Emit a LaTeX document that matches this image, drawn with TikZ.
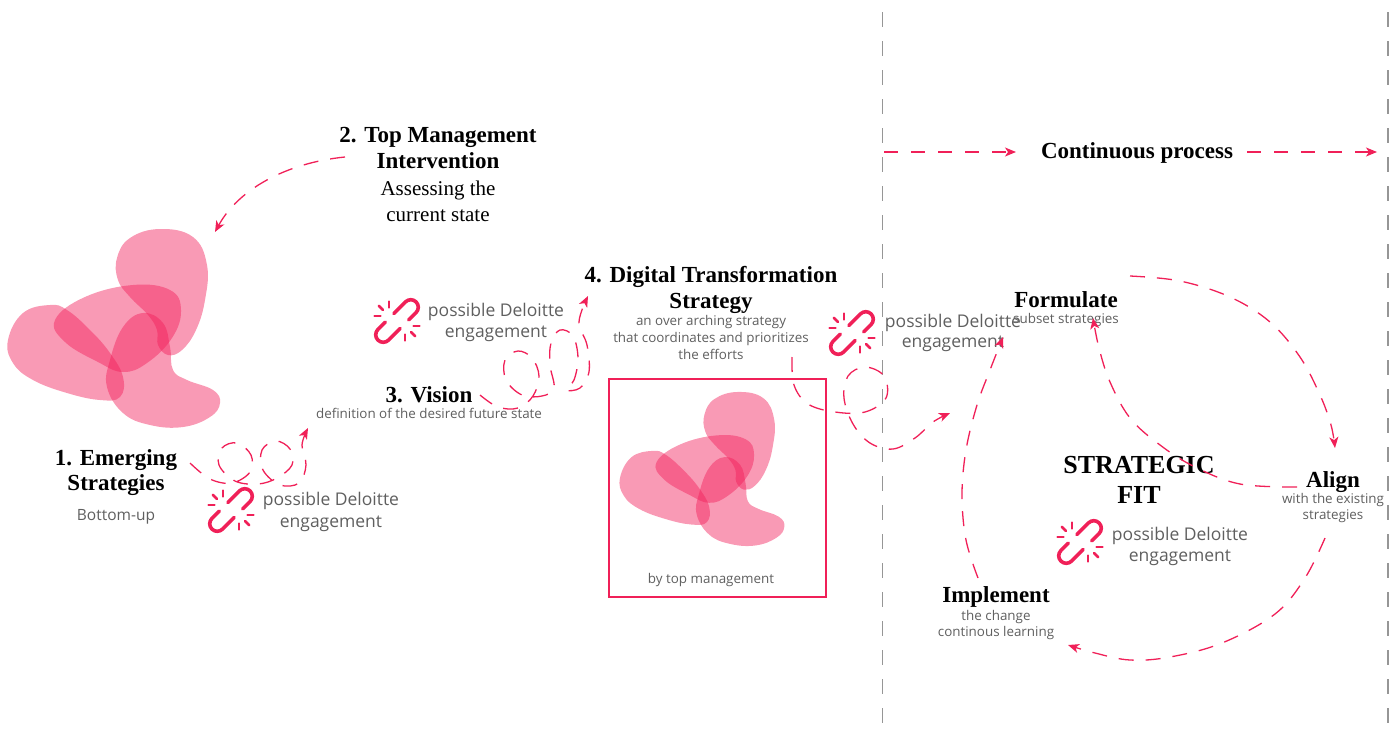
\documentclass[tikz,border=0pt]{standalone}
\usepackage{fontspec}
\setmainfont{Liberation Serif}
\setsansfont{Open Sans}
\usetikzlibrary{arrows.meta}

\definecolor{accent}{RGB}{240,32,88}
\definecolor{blobpink}{RGB}{242,30,90}
\definecolor{softgray}{RGB}{95,95,95}
\definecolor{rulegray}{RGB}{150,150,150}

% four translucent petals forming the strategy cluster
\newcommand\petalcluster{%
  \fill[blob] plot[smooth cycle, tension=0.7] coordinates {(160,229) (193,237) (207,265) (205,300) (196,330) (182,350) (168,355) (158,345) (157,330) (148,315) (130,297) (118,280) (117,258) (130,238)};
  \fill[blob] plot[smooth cycle, tension=0.7] coordinates {(55,320) (85,297) (133,285) (170,290) (181,310) (172,338) (147,363) (123,372) (98,362) (65,342)};
  \fill[blob] plot[smooth cycle, tension=0.7] coordinates {(8,340) (23,313) (50,305) (67,310) (90,330) (110,353) (123,377) (120,397) (100,400) (67,393) (33,380) (13,363)};
  \fill[blob] plot[smooth cycle, tension=0.7] coordinates {(110,360) (123,327) (143,313) (163,323) (170,347) (173,370) (187,380) (213,390) (220,403) (210,417) (183,427) (150,425) (123,413) (107,387)};
}

\tikzset{
  brokenlink/.pic={
    \begin{scope}[rotate=45, line width=3.6pt, line cap=round, line join=round]
      \draw[accent, rounded corners=7.5pt] (3,-7.5) -- (27,-7.5) -- (27,7.5) -- (9,7.5);
      \draw[accent, rounded corners=7.5pt] (-3,7.5) -- (-27,7.5) -- (-27,-7.5) -- (-9,-7.5);
    \end{scope}
    \foreach \u/\v in {-1/0, -0.707/-0.707, 0/-1}{
      \draw[accent, line width=2.5pt, line cap=round] ({-8+8.5*\u},{-5+8.5*\v}) -- ({-8+14.5*\u},{-5+14.5*\v});
      \draw[accent, line width=2.5pt, line cap=round] ({8-8.5*\u},{5-8.5*\v}) -- ({8-14.5*\u},{5-14.5*\v});
    }
  }
}

\begin{document}
\begin{tikzpicture}[x=1pt, y=-1pt,
  blob/.style={fill=blobpink, fill opacity=0.45, draw=none},
  flow/.style={draw=accent, line width=1.3pt, dash pattern=on 15pt off 12pt,
    -{Stealth[length=11pt, width=9pt, inset=3pt]}},
  straightflow/.style={flow, dash pattern=on 14pt off 13pt},
  head/.style={font=\fontsize{23}{26}\selectfont\bfseries, inner sep=0pt, anchor=base},
  bighead/.style={font=\fontsize{26}{30}\selectfont\bfseries, inner sep=0pt, anchor=base},
  headlight/.style={font=\fontsize{21}{26}\selectfont, inner sep=0pt, anchor=base},
  sub/.style={font=\sffamily\fontsize{13.4}{17}\selectfont, text=softgray, inner sep=0pt, anchor=base},
  note/.style={font=\sffamily\fontsize{17.5}{21}\selectfont, text=softgray, inner sep=0pt, anchor=base},
  divider/.style={draw=rulegray, line width=1.5pt, dash pattern=on 15pt off 14pt},
  frame/.style={draw=accent, line width=1.3pt, minimum width=217pt, minimum height=218pt, inner sep=0pt}
]
\useasboundingbox (0,0) rectangle (1400,729);

% dividers of the continuous section
\draw[divider] (882.5,12) -- (882.5,729);
\draw[divider] (1388,12) -- (1388,729);

% petal clusters
\petalcluster
\begin{scope}[shift={(613.8,214.5)}, scale=0.775]
  \petalcluster
\end{scope}

% 1. emerging strategies
\node[head] (t1a) at (116,465) {1. Emerging};
\node[head] (t1b) at (116,490) {Strategies};
\node[sub, font=\sffamily\fontsize{15.5}{18}\selectfont] (t1c) at (116,520) {Bottom-up};

% 2. top management intervention
\node[head] (t2a) at (438,142) {2. Top Management};
\node[head] (t2b) at (438,168) {Intervention};
\node[headlight] (t2c) at (438,195) {Assessing the};
\node[headlight] (t2d) at (438,221) {current state};

% 3. vision
\node[head] (t3a) at (429,402) {3. Vision};
\node[sub] (t3b) at (429,418) {definition of the desired future state};

% 4. digital transformation strategy
\node[head] (t4a) at (711,282) {4. Digital Transformation};
\node[head] (t4b) at (711,308) {Strategy};
\node[sub] (t4c) at (711,325) {an over arching strategy};
\node[sub] (t4d) at (711,342) {that coordinates and prioritizes};
\node[sub] (t4e) at (711,359) {the efforts};
\node[frame] (mgmt) at (717.5,488) {};
\node[sub] (t4f) at (711,583) {by top management};

% engagement notes
\pic (i1) at (231,510) {brokenlink};
\node[note] (n1a) at (331,505) {possible Deloitte};
\node[note] (n1b) at (331,527) {engagement};
\pic (i2) at (397,321) {brokenlink};
\node[note] (n2a) at (496,316) {possible Deloitte};
\node[note] (n2b) at (496,337) {engagement};
\pic (i3) at (852,333) {brokenlink};
\node[note] (n3a) at (953,327) {possible Deloitte};
\node[note] (n3b) at (953,347) {engagement};
\pic (i4) at (1080,542) {brokenlink};
\node[note] (n4a) at (1180,540) {possible Deloitte};
\node[note] (n4b) at (1180,561) {engagement};

% strategic fit cycle
\node[head] (cp) at (1137,158) {Continuous process};
\node[head] (fa) at (1066,307) {Formulate};
\node[sub] (fb) at (1066,323) {subset strategies};
\node[bighead] (sf1) at (1139,473) {STRATEGIC};
\node[bighead] (sf2) at (1139,503) {FIT};
\node[head] (al1) at (1333,487) {Align};
\node[sub] (al2) at (1333,503) {with the existing};
\node[sub] (al3) at (1333,519) {strategies};
\node[head] (im1) at (996,602) {Implement};
\node[sub] (im2) at (996,620) {the change};
\node[sub] (im3) at (996,636) {continous learning};

% free ends of the connectors
\coordinate (c1s) at (345,157);
\coordinate (c1e) at (215,232);
\coordinate (c2e) at (308,428);
\coordinate (c3e) at (588,296);
\coordinate (c4s) at (792,357);
\coordinate (c4e) at (950,413);
\coordinate (cpa) at (884,152);
\coordinate (cpb) at (1016,152);
\coordinate (cpc) at (1247,152);
\coordinate (cpd) at (1377,152);
\coordinate (f1s) at (1130,276);
\coordinate (f1e) at (1335,448);
\coordinate (f2s) at (1325,538);
\coordinate (f2e) at (1068,645);
\coordinate (f3s) at (978,578);
\coordinate (f3e) at (1003,337);
\coordinate (f4s) at (1297,487);
\coordinate (f4e) at (1093,318);

% process connectors
\draw[flow] (c1s) .. controls (285,163) and (238,190) .. (c1e);
\draw[flow] plot[smooth, tension=0.6] coordinates {(190,463) (210,479) (232,483) (250,472) (251,455) (237,443) (222,448) (219,465) (235,481) (258,484) (277,478) (292,465) (290,449) (276,441) (262,450) (263,470) (280,485) (299,483) (306,465) (302,445) (c2e)};
\draw[flow] plot[smooth, tension=0.6] coordinates {(480,395) (498,407) (518,408) (533,396) (539,376) (532,358) (518,351) (505,360) (506,380) (522,395) (542,396) (554,388) (550,365) (551,343) (560,330) (573,336) (578,358) (574,380) (566,390) (580,388) (589,372) (587,345) (579,322) (c3e)};
\draw[flow] plot[smooth, tension=0.6] coordinates {(c4s) (794,385) (808,404) (835,412) (865,412) (886,398) (884,376) (865,367) (848,376) (844,398) (853,424) (870,443) (893,449) (915,438) (933,422) (c4e)};

\draw[straightflow] (cpa) -- (cpb);
\draw[straightflow] (cpc) -- (cpd);

\draw[flow] plot[smooth, tension=0.6] coordinates {(f1s) (1180,281) (1230,297) (1270,322) (1300,357) (1320,395) (1331,425) (f1e)};
\draw[flow] plot[smooth, tension=0.6] coordinates {(f2s) (1305,578) (1275,614) (1222,643) (1170,657) (1130,660) (1095,653) (f2e)};
\draw[flow] plot[smooth, tension=0.6] coordinates {(f3s) (966,540) (962,495) (966,450) (977,405) (990,370) (f3e)};
\draw[flow] plot[smooth, tension=0.6] coordinates {(f4s) (1240,484) (1195,467) (1160,445) (1130,418) (1110,382) (1099,348) (f4e)};
\end{tikzpicture}
\end{document}
